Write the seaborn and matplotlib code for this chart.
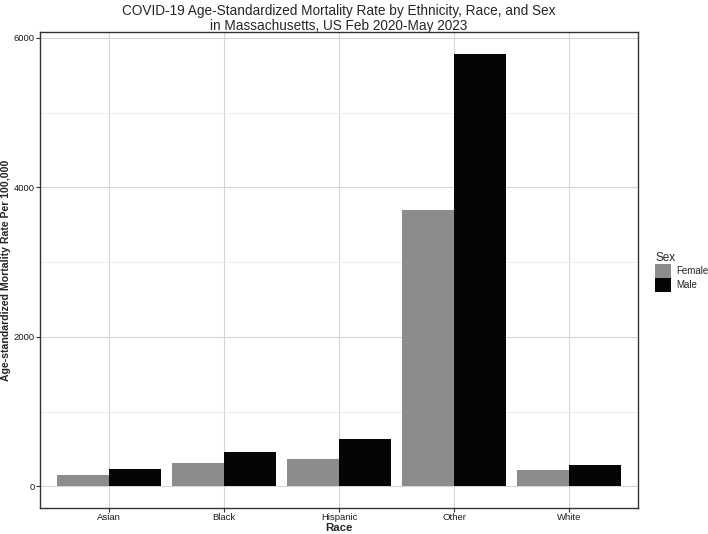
import pandas as pd
import matplotlib.pyplot as plt
import seaborn as sns

# values
races = ["Asian", "Black", "Hispanic", "Other", "White"]
female = [147, 312, 365, 3703, 223]
male = [237, 455, 637, 5785, 290]

df = pd.DataFrame({
    "Race": races * 2,
    "Sex": ["Female"] * len(races) + ["Male"] * len(races),
    "Rate": female + male,
})

sns.set_style("white")
plt.rcParams["font.family"] = ["Liberation Sans", "DejaVu Sans"]

fig = plt.figure(figsize=(7.08, 5.34), dpi=100)
ax = fig.add_axes([40 / 708, 26 / 534, 598 / 708, 476 / 534])

sns.barplot(data=df, x="Race", y="Rate", hue="Sex", order=races,
            palette={"Female": "#8C8C8C", "Male": "#050505"},
            width=0.9, saturation=1, linewidth=0, ax=ax, zorder=3)

ax.set_ylim(-290, 6080)
ax.set_xlim(-0.6, 4.6)
ax.set_yticks([0, 2000, 4000, 6000])
ax.set_yticks([1000, 3000, 5000], minor=True)
ax.grid(True, which="major", color="#d6d6d6", lw=0.8, zorder=0)
ax.grid(True, which="minor", axis="y", color="#ebebeb", lw=0.6, zorder=0)
ax.set_axisbelow(True)
for s in ax.spines.values():
    s.set_color("#333333")
    s.set_linewidth(1.0)

ax.tick_params(axis="both", which="major", labelsize=6.8, length=2.75, width=0.8,
               color="#333333", labelcolor="#1a1a1a", direction="out", pad=1.2)
ax.tick_params(left=True, bottom=True)
ax.tick_params(which="minor", length=0)

ax.set_xlabel("Race", fontsize=8.2, fontweight="bold")
ax.xaxis.set_label_coords(0.5, -0.031)
ax.xaxis.label.set_va("top")
ax.set_ylabel("Age-standardized Mortality Rate Per 100,000", fontsize=7.6,
              fontweight="bold")
ax.yaxis.set_label_coords(-0.049, 0.5)
ax.set_title("COVID-19 Age-Standardized Mortality Rate by Ethnicity, Race, and Sex\n"
             "in Massachusetts, US Feb 2020-May 2023", fontsize=9.8, pad=1.5,
             linespacing=1.05)

leg = ax.legend(title="Sex", loc="center left",
                bbox_to_anchor=(655 / 708, 1 - 272 / 534),
                bbox_transform=fig.transFigure,
                frameon=False, fontsize=7, title_fontsize=8.5,
                handlelength=1.65, handleheight=1.9, handletextpad=0.5,
                labelspacing=0.0, borderpad=0, borderaxespad=0)
leg._legend_box.align = "left"

fig.savefig("out.png", dpi=100)
